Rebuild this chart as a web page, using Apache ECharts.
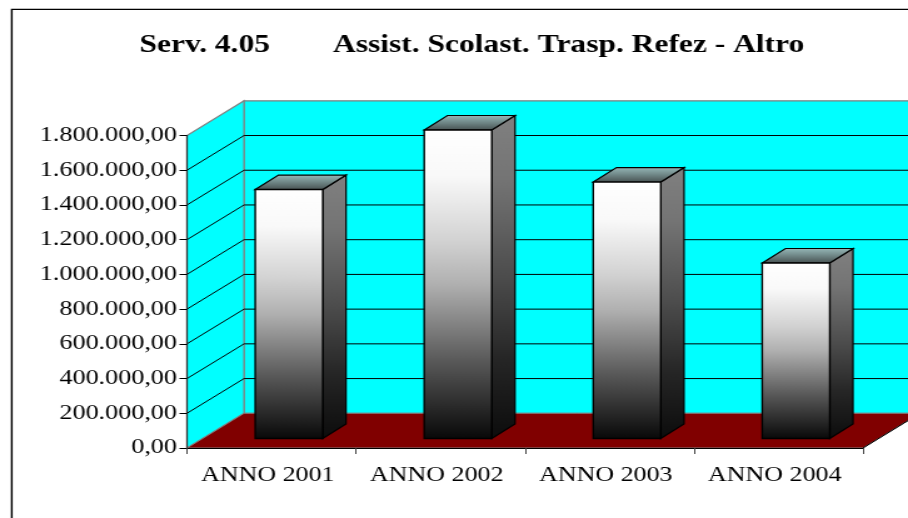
<!DOCTYPE html>
<html>
<head>
<meta charset="utf-8">
<title>Serv. 4.05</title>
<script src="https://cdn.jsdelivr.net/npm/echarts@6/dist/echarts.min.js"></script>
<style>
  html, body { margin: 0; padding: 0; background: #fff; overflow: hidden; }
  /* the original picture is stretched sideways, text included */
  #main { width: 726px; height: 518px; transform: scaleX(1.2507); transform-origin: 0 0; }
</style>
</head>
<body>
<div id="main"></div>
<script>
// --- data --- //
const categories = ['ANNO 2001', 'ANNO 2002', 'ANNO 2003', 'ANNO 2004'];
const values = [1434000, 1777000, 1477000, 1011000];
const yTicks = [0, 200000, 400000, 600000, 800000, 1000000, 1200000, 1400000, 1600000, 1800000];
const titleText = 'Serv. 4.05        Assist. Scolast. Trasp. Refez - Altro';

// --- 3D look: depth of the box and of the bars, in px --- //
const depthX = 45.6, depthY = 34.7;
const barDepthX = 18.6, barDepthY = 14.5;
const barLift = 9.5, barLeft = -13, barWidth = 54;

function formatValue(v) {
  return v.toFixed(2).replace('.', ',').replace(/\B(?=(\d{3})+,)/g, '.');
}

function poly(points, fill, stroke, lineWidth) {
  return {
    type: 'polygon',
    shape: { points: points },
    style: { fill: fill, stroke: stroke, lineWidth: lineWidth }
  };
}

function segment(x1, y1, x2, y2, color, lineWidth) {
  return {
    type: 'line',
    shape: { x1: x1, y1: y1, x2: x2, y2: y2 },
    style: { stroke: color, lineWidth: lineWidth }
  };
}

function renderWalls(params, api) {
  const bottom = api.coord([0, 0]);
  const top = api.coord([0, yTicks[yTicks.length - 1]]);
  const x0 = bottom[0] - api.size([1, 0])[0] / 2;
  const x1 = x0 + api.size([1, 0])[0] * categories.length;
  const bx = x0 + depthX;
  const farX = x1 + depthX;
  const children = [
    poly([[bx, top[1] - depthY], [farX, top[1] - depthY], [farX, bottom[1] - depthY], [bx, bottom[1] - depthY]], '#00ffff', '#808080', 1.2),
    poly([[x0, bottom[1]], [bx, bottom[1] - depthY], [bx, top[1] - depthY], [x0, top[1]]], '#00ffff', '#808080', 1.2),
    poly([[x0, bottom[1]], [x1, bottom[1]], [farX, bottom[1] - depthY], [bx, bottom[1] - depthY]], '#800000', '#808080', 1),
    segment(x1, bottom[1], farX, bottom[1] - depthY, '#000', 1)
  ];
  yTicks.slice(1, -1).forEach(function (t) {
    const y = api.coord([0, t])[1];
    children.push(segment(x0, y, bx, y - depthY, '#000', 1));
    children.push(segment(bx, y - depthY, farX, y - depthY, '#000', 1));
  });
  return { type: 'group', children: children };
}

function renderBar(params, api) {
  const center = api.coord([api.value(0), 0]);
  const topPt = api.coord([api.value(0), api.value(1)]);
  const l = center[0] + barLeft, r = l + barWidth;
  const b = center[1] - barLift, t = topPt[1] - barLift;
  const dx = barDepthX, dy = barDepthY;
  const G = echarts.graphic.LinearGradient;
  return {
    type: 'group',
    children: [
      poly([[r, t], [r + dx, t - dy], [r + dx, b - dy], [r, b]],
        new G(0, 0, 0, 1, [
          { offset: 0, color: '#808080' },
          { offset: 0.2, color: '#747474' },
          { offset: 0.5, color: '#4c4c4c' },
          { offset: 0.75, color: '#262626' },
          { offset: 1, color: '#0c0c0c' }
        ]), '#000', 1.2),
      poly([[l, t], [l + dx, t - dy], [r + dx, t - dy], [r, t]],
        new G(0, 0, 0, 1, [{ offset: 0, color: '#98baba' }, { offset: 0.5, color: '#6f8686' }, { offset: 1, color: '#454f4f' }]), '#000', 1.2),
      poly([[l, t], [r, t], [r, b], [l, b]],
        new G(0, 0, 0, 1, [
          { offset: 0, color: '#ffffff' },
          { offset: 0.15, color: '#f9f9f9' },
          { offset: 0.36, color: '#d2d2d2' },
          { offset: 0.5, color: '#b0b0b0' },
          { offset: 0.75, color: '#585858' },
          { offset: 1, color: '#080808' }
        ]), '#000', 1.4)
    ]
  };
}

const chart = echarts.init(document.getElementById('main'));
chart.setOption({
  animation: false,
  title: {
    text: titleText,
    left: 106.6,
    top: 28,
    textStyle: { fontFamily: 'Liberation Serif', fontWeight: 'bold', fontSize: 25.2, color: '#000' }
  },
  grid: { left: 149.5, right: 36, top: 135.5, height: 312.5, containLabel: false },
  xAxis: {
    type: 'category',
    data: categories,
    z: 5,
    axisLine: { lineStyle: { color: '#000', width: 1.2 } },
    axisTick: { show: true, interval: 0, length: 6, lineStyle: { color: '#404040' } },
    axisLabel: { interval: 0, margin: 17, fontFamily: 'Liberation Serif', fontSize: 20.8, color: '#000', padding: [0, 6, 0, 0] }
  },
  yAxis: {
    type: 'value',
    min: 0,
    max: 1800000,
    interval: 200000,
    z: 5,
    splitLine: { show: false },
    axisLine: { show: true, lineStyle: { color: '#333', width: 1.2 } },
    axisTick: { show: true, length: 6, lineStyle: { color: '#000' } },
    axisLabel: { margin: 8, padding: [3, 0, 0, 0], fontFamily: 'Liberation Serif', fontSize: 20.9, color: '#000', formatter: formatValue }
  },
  series: [
    { type: 'custom', name: 'box', renderItem: renderWalls, data: [[0, 0]], encode: { x: 0, y: 1 }, z: 1, silent: true },
    {
      type: 'custom',
      name: 'importo',
      renderItem: renderBar,
      data: values.map(function (v, i) { return [i, v]; }),
      encode: { x: 0, y: 1 },
      z: 2
    }
  ],
  graphic: [
    {
      type: 'polyline',
      shape: { points: [[9.4, 518], [9.4, 9.4], [726, 9.4]] },
      style: { stroke: '#000', lineWidth: 1.4, fill: null }
    }
  ]
});
</script>
</body>
</html>
